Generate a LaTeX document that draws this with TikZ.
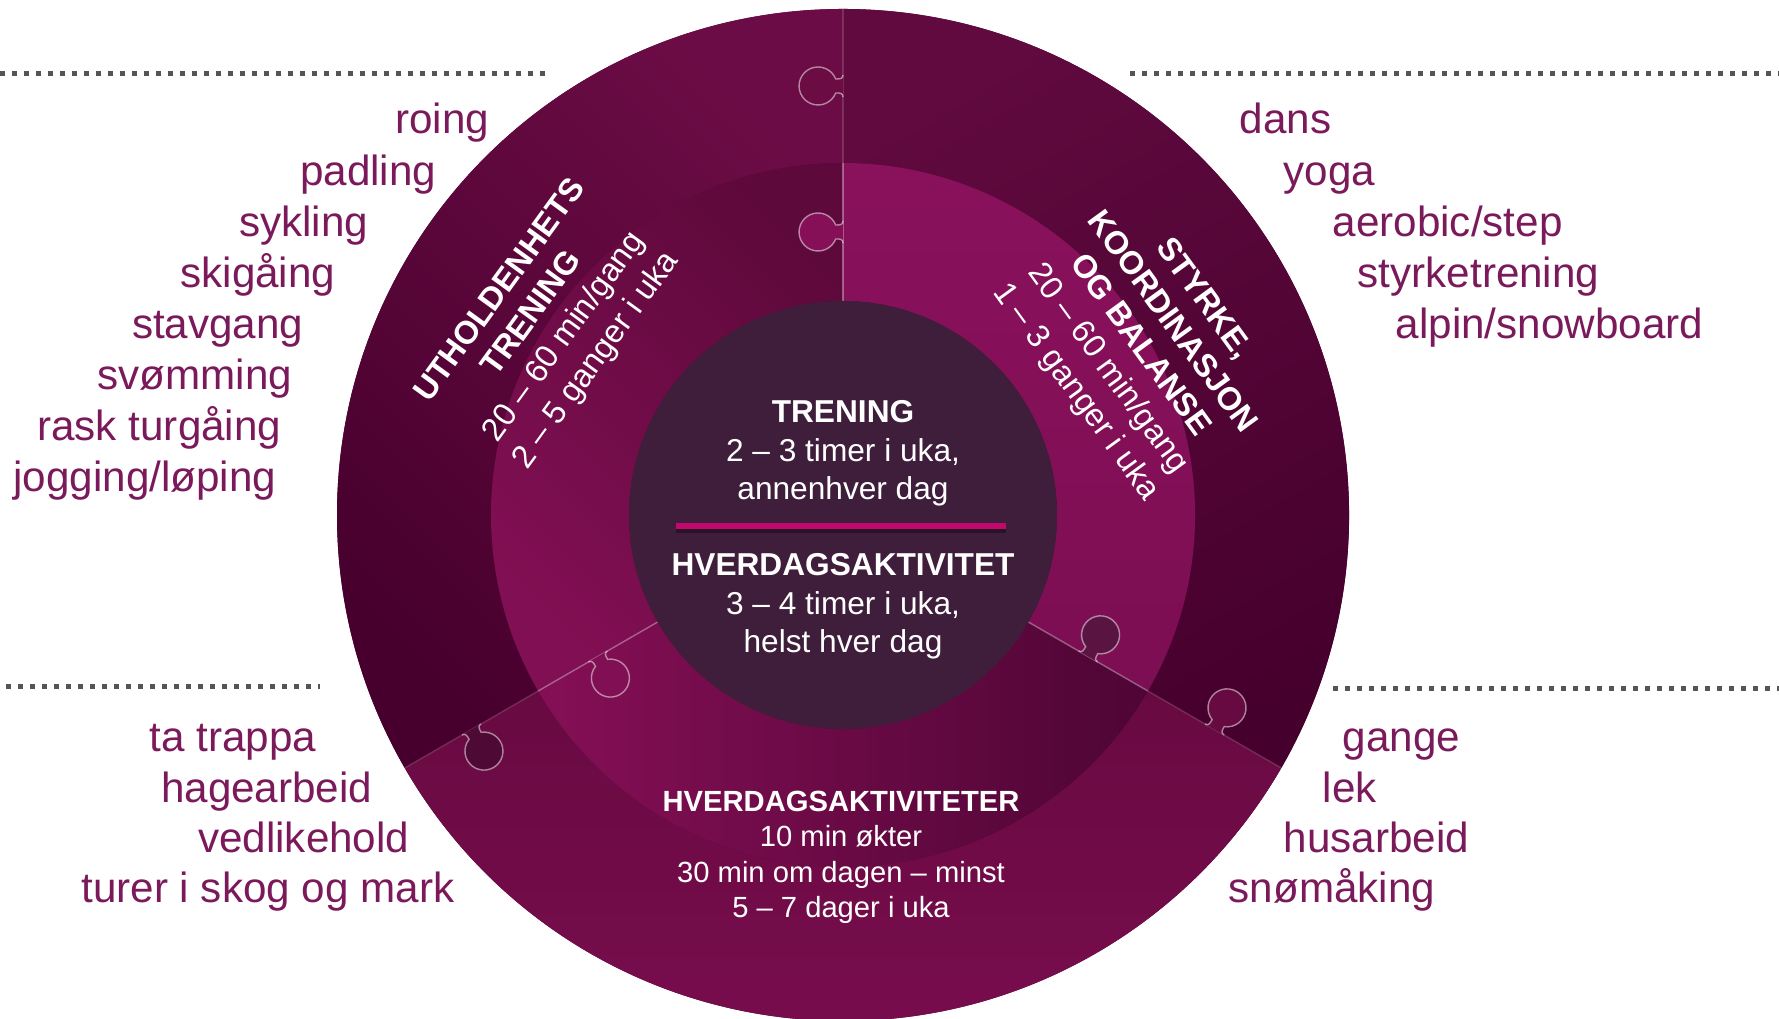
\documentclass[tikz,border=0pt]{standalone}
\usepackage{fontspec}
\setmainfont{Liberation Sans}

\definecolor{plumtext}{HTML}{7A1A5B}
\definecolor{dotgrey}{HTML}{555555}
\definecolor{hubfill}{HTML}{3F1E3B}
\definecolor{divider}{HTML}{C2086C}
\definecolor{ringbase}{HTML}{550738}
% ring pieces: a = light end, b = dark end
\definecolor{outLa}{HTML}{6C0C46}
\definecolor{outLb}{HTML}{47002D}
\definecolor{outRa}{HTML}{600A3F}
\definecolor{outRb}{HTML}{46002D}
\definecolor{outBa}{HTML}{680A42}
\definecolor{outBb}{HTML}{7B0D4F}
\definecolor{midLa}{HTML}{5E093C}
\definecolor{midLb}{HTML}{810F53}
\definecolor{midRa}{HTML}{8A115C}
\definecolor{midRb}{HTML}{7C0E53}
\definecolor{midBa}{HTML}{850F55}
\definecolor{midBb}{HTML}{4E0535}

% puzzle knob on the ring edge at angle #1, radius #2
\newcommand{\puzzletab}[3]{%
  \fill[#3, rotate=#1] (#2-11,0) .. controls (#2-7,0) and (#2-7,3) .. (#2-7,7.3)
    arc[start angle=248.4, end angle=-68.4, radius=19]
    .. controls (#2+7,3) and (#2+7,0) .. (#2+11,0) -- cycle;
  \draw[seam, opacity=.5, rotate=#1] (#2-11,0) .. controls (#2-7,0) and (#2-7,3) .. (#2-7,7.3)
    arc[start angle=248.4, end angle=-68.4, radius=19]
    .. controls (#2+7,3) and (#2+7,0) .. (#2+11,0);
}

\begin{document}
\begin{tikzpicture}[x=0.01cm, y=0.01cm,
  item/.style={font=\fontsize{12}{14}\selectfont, text=plumtext, inner sep=0pt},
  hubtext/.style={font=\fontsize{9}{10.95}\selectfont, text=white, align=center, inner sep=0pt},
  bandtext/.style={font=\fontsize{9.2}{11.2}\selectfont, text=white, align=center, inner sep=0pt},
  daytext/.style={font=\fontsize{8.3}{10.1}\selectfont, text=white, align=center, inner sep=0pt},
  dots/.style={draw=dotgrey, line width=0.05cm, dash pattern=on 0.05cm off 0.07cm},
  seam/.style={draw=white, opacity=.35, line width=.4pt}]

\useasboundingbox (0,0) rectangle (1779,1019);

% dotted rules over the lists
\draw[dots] (0,945) -- (546,945);
\draw[dots] (1130,945) -- (1779,945);
\draw[dots] (6,332) -- (320,332);
\draw[dots] (1333,330) -- (1779,330);

\begin{scope}[shift={(843,504)}]
  \fill[ringbase] (0,0) circle[radius=506];
  % outer ring
  \shade[top color=outLa, bottom color=outLb, shading angle=-45]
    (90:506) arc[start angle=90, end angle=210, radius=506]
    -- (210:352) arc[start angle=210, end angle=90, radius=352] -- cycle;
  \shade[top color=outRa, bottom color=outRb, shading angle=30]
    (-30:506) arc[start angle=-30, end angle=90, radius=506]
    -- (90:352) arc[start angle=90, end angle=-30, radius=352] -- cycle;
  \shade[top color=outBa, bottom color=outBb]
    (210:506) arc[start angle=210, end angle=330, radius=506]
    -- (330:352) arc[start angle=330, end angle=210, radius=352] -- cycle;
  % middle ring
  \shade[top color=midLa, bottom color=midLb, shading angle=-45]
    (90:352) arc[start angle=90, end angle=210, radius=352]
    -- (210:214) arc[start angle=210, end angle=90, radius=214] -- cycle;
  \shade[top color=midRa, bottom color=midRb]
    (-30:352) arc[start angle=-30, end angle=90, radius=352]
    -- (90:214) arc[start angle=90, end angle=-30, radius=214] -- cycle;
  \shade[left color=midBa, right color=midBb]
    (210:352) arc[start angle=210, end angle=330, radius=352]
    -- (330:214) arc[start angle=330, end angle=210, radius=214] -- cycle;

  \foreach \a in {90,210,330} {
    \draw[seam] (\a:214) -- (\a:352);
    \draw[seam, opacity=.15] (\a:352) -- (\a:506);
  }

  \puzzletab{90}{429}{outLa!90!outRa}
  \puzzletab{90}{283}{midRa!96!black}
  \puzzletab{210}{429}{outLb!96!white}
  \puzzletab{210}{283}{midLb}
  \puzzletab{330}{283}{midBb!94!white}
  \puzzletab{330}{429}{outBa}

  \fill[hubfill] (0,0) circle[radius=214];
\end{scope}

% divider in the hub
\coordinate (divL) at (676,493);
\coordinate (divR) at (1006,493);
\draw[line width=1.5pt, black, opacity=.35, transform canvas={yshift=-1.2pt}] (divL) -- (divR);
\draw[line width=1.5pt, divider] (divL) -- (divR);

\node[hubtext, anchor=base] (trening) at (843,519)
  {\textbf{TRENING}\\2 – 3 timer i uka,\\annenhver dag};
\node[hubtext, anchor=base] (hverdag) at (843,366)
  {\textbf{HVERDAGSAKTIVITET}\\3 – 4 timer i uka,\\helst hver dag};

\node[bandtext, rotate=54] (utholdenhet) at (549,693)
  {\textbf{UTHOLDENHETS}\\\textbf{TRENING}\\20 – 60 min/gang\\2 – 5 ganger i uka};
\node[bandtext, rotate=-54] (styrke) at (1139,673)
  {\textbf{STYRKE,}\\\textbf{KOORDINASJON}\\\textbf{OG BALANSE}\\20 – 60 min/gang\\1 – 3 ganger i uka};
\node[daytext, anchor=base] (daglig) at (841,101)
  {\textbf{HVERDAGSAKTIVITETER}\\10 min økter\\30 min om dagen – minst\\5 – 7 dager i uka};

% activity lists
\foreach \txt/\xe [count=\i from 0] in {roing/490, padling/437, sykling/369,
    skigåing/336, stavgang/304, svømming/293, rask turgåing/282, {jogging/løping}/277}
  \node[item, anchor=base east] (endu\i) at (\xe,{885-51.1*\i}) {\txt};
\foreach \txt/\xw [count=\i from 0] in {dans/1239, yoga/1283, {aerobic/step}/1332,
    styrketrening/1357, {alpin/snowboard}/1395}
  \node[item, anchor=base west] (strength\i) at (\xw,{885-51.1*\i}) {\txt};
\foreach \txt/\xe [count=\i from 0] in {ta trappa/317, hagearbeid/373,
    vedlikehold/410, turer i skog og mark/455}
  \node[item, anchor=base east] (daily\i) at (\xe,{267-50.3*\i}) {\txt};
\foreach \txt/\xw [count=\i from 0] in {gange/1342, lek/1322, husarbeid/1283, snømåking/1228}
  \node[item, anchor=base west] (home\i) at (\xw,{267-50.3*\i}) {\txt};

\end{tikzpicture}
\end{document}
